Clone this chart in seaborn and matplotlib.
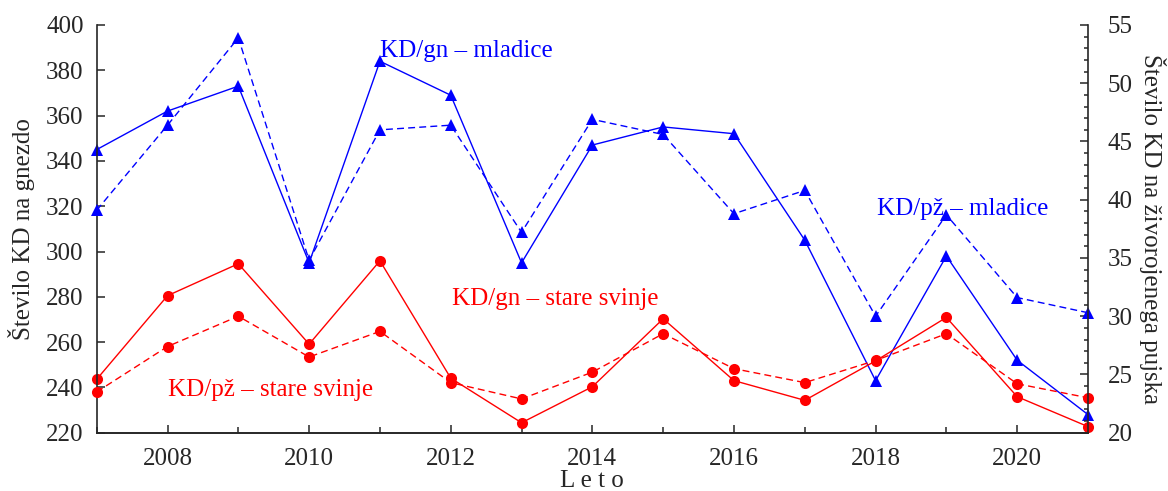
import numpy as np
import pandas as pd
import matplotlib
matplotlib.use("Agg")
import matplotlib.pyplot as plt
from matplotlib.ticker import MultipleLocator
import seaborn as sns

sns.set_style("ticks")
plt.rcParams["font.family"] = ["Liberation Serif", "DejaVu Serif"]

# ── Data ──────────────────────────────────────────────────────────────────────
years = list(range(2007, 2022))

# KD per nest (left axis)
gn_mladice = [345, 362, 373, 295, 384, 369, 295, 347, 355, 352, 305, 243, 298, 252, 228]
gn_stare = [243.6, 280.5, 294.6, 259.1, 295.9, 244.1, 224.4, 240.3, 270.3, 243.0,
            234.3, 251.7, 270.9, 235.9, 222.7]

# KD per live-born piglet (right axis)
pz_mladice = [39.1, 46.4, 53.9, 34.8, 46.0, 46.4, 37.2, 46.9, 45.6, 38.8, 40.8,
              30.0, 38.7, 31.6, 30.3]
pz_stare = [23.5, 27.4, 30.0, 26.5, 28.7, 24.3, 22.9, 25.2, 28.5, 25.5, 24.3,
            26.2, 28.5, 24.2, 23.0]

df = pd.DataFrame({
    "leto": years,
    "gn_mladice": gn_mladice,
    "gn_stare": gn_stare,
    "pz_mladice": pz_mladice,
    "pz_stare": pz_stare,
})

BLUE = "#0000ff"
RED = "#ff0000"
FS = 18

# ── Plot ──────────────────────────────────────────────────────────────────────
fig = plt.figure(figsize=(11.68, 4.91), dpi=100)
ax = fig.add_axes([0.0828, 0.1187, 0.8487, 0.8304])
ax2 = ax.twinx()

line_kw = dict(linewidth=1.0, markeredgewidth=0, clip_on=False)
sns.lineplot(data=df, x="leto", y="gn_mladice", ax=ax, color=BLUE,
             marker="^", markersize=8, **line_kw)
sns.lineplot(data=df, x="leto", y="gn_stare", ax=ax, color=RED,
             marker="o", markersize=8, **line_kw)
sns.lineplot(data=df, x="leto", y="pz_mladice", ax=ax2, color=BLUE,
             marker="^", markersize=8, linestyle=(0, (5, 3)), **line_kw)
sns.lineplot(data=df, x="leto", y="pz_stare", ax=ax2, color=RED,
             marker="o", markersize=8, linestyle=(0, (5, 3)), **line_kw)

ax.set_xlim(2007, 2021)
ax.set_ylim(220, 400)
ax2.set_ylim(20, 55)

ax.xaxis.set_major_locator(MultipleLocator(2))
ax.xaxis.set_minor_locator(MultipleLocator(1))
ax.yaxis.set_major_locator(MultipleLocator(20))
ax2.yaxis.set_major_locator(MultipleLocator(5))
ax2.yaxis.set_minor_locator(MultipleLocator(1))

ax.tick_params(axis="x", which="major", direction="in", length=6, width=1.1,
               labelsize=FS, pad=11)
ax.tick_params(axis="y", which="major", direction="in", length=6, width=1.1,
               labelsize=FS, pad=9.5)
ax.tick_params(axis="x", which="minor", direction="in", length=4, width=1.1)
ax2.tick_params(axis="y", which="major", direction="in", length=6, width=1.1,
                labelsize=FS, pad=14)
ax2.tick_params(axis="y", which="minor", direction="in", length=3, width=1.1)

for a in (ax, ax2):
    a.spines["top"].set_visible(False)
    for s in a.spines.values():
        s.set_linewidth(1.2)
ax.spines["right"].set_visible(False)
ax2.spines["left"].set_visible(False)

ax.set_xlabel("L e t o", fontsize=FS, labelpad=0)
ax.set_ylabel("Število KD na gnezdo", fontsize=FS, labelpad=8)
ax2.set_ylabel("Število KD na živorojenega pujska", fontsize=FS,
               rotation=-90, labelpad=24)

# series labels
ax.text(2011.0, 386, "KD/gn – mladice", color=BLUE, fontsize=FS, va="baseline")
ax.text(2018.02, 316, "KD/pž – mladice", color=BLUE, fontsize=FS, va="baseline")
ax.text(2012.02, 276.2, "KD/gn – stare svinje", color=RED, fontsize=FS, va="baseline")
ax.text(2008.0, 236.4, "KD/pž – stare svinje", color=RED, fontsize=FS, va="baseline")

fig.savefig("out.png", dpi=100)
